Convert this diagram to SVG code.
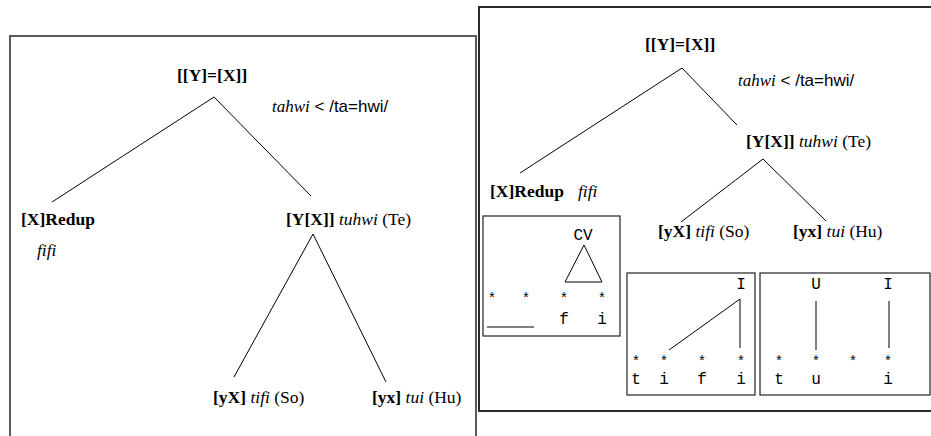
<svg xmlns="http://www.w3.org/2000/svg" width="931" height="436" viewBox="0 0 931 436">
<style>
.lbl{font-family:"Liberation Serif","Times New Roman",serif;font-size:17.5px;fill:#000}
.b{font-weight:bold}
.i{font-style:italic}
.sans{font-family:"Liberation Sans",Arial,sans-serif;font-style:normal}
.note{font-family:"Liberation Serif","Times New Roman",serif;font-size:17px;fill:#000}
.seg{font-family:"Liberation Mono","Courier New",monospace;font-size:16px;text-anchor:middle;fill:#000}
.star{font-family:"Liberation Mono","Courier New",monospace;font-size:14px;text-anchor:middle;fill:#000}
.edge{stroke:#000;stroke-width:1;fill:none}
.panelL{fill:none;stroke:#5a5a5a;stroke-width:2}
.panelR{fill:none;stroke:#2a2a2a;stroke-width:2}
.box{fill:none;stroke:#333;stroke-width:1.3}
</style>
<rect fill="#fff" x="0" y="0" width="931" height="436"/>

<g id="panel-left">
  <rect class="panelL" x="10" y="36" width="466" height="430"/>
</g>
<g id="panel-right">
  <rect class="panelR" x="479" y="7" width="470" height="404"/>
</g>

<g id="connectors">
  <line class="edge" x1="214" y1="97" x2="52" y2="202"/>
  <line class="edge" x1="214" y1="97" x2="311" y2="196"/>
  <line class="edge" x1="313" y1="234" x2="234" y2="377"/>
  <line class="edge" x1="313" y1="234" x2="386" y2="382"/>
  <line class="edge" x1="682" y1="68" x2="520" y2="173"/>
  <line class="edge" x1="682" y1="68" x2="737" y2="125"/>
  <line class="edge" x1="763" y1="159" x2="681" y2="222"/>
  <line class="edge" x1="763" y1="159" x2="826" y2="221"/>
</g>

<g id="L-root"><text class="lbl b" x="177" y="81">[[Y]=[X]]</text></g>
<g id="L-note"><text class="note" x="272" y="112"><tspan class="i">tahwi</tspan><tspan class="sans"> &lt; /ta=hwi/</tspan></text></g>
<g id="L-redup"><text class="lbl b" x="21" y="225">[X]Redup</text><text class="lbl i" x="37" y="256">fifi</text></g>
<g id="L-YX"><text class="lbl" x="286" y="225"><tspan class="b">[Y[X]]</tspan> <tspan class="i">tuhwi</tspan> (Te)</text></g>
<g id="L-yX"><text class="lbl" x="213" y="403"><tspan class="b">[yX]</tspan> <tspan class="i">tifi</tspan> (So)</text></g>
<g id="L-yx"><text class="lbl" x="372" y="403"><tspan class="b">[yx]</tspan> <tspan class="i">tui</tspan> (Hu)</text></g>

<g id="R-root"><text class="lbl b" x="645" y="50">[[Y]=[X]]</text></g>
<g id="R-note"><text class="note" x="738" y="86"><tspan class="i">tahwi</tspan><tspan class="sans"> &lt; /ta=hwi/</tspan></text></g>
<g id="R-YX"><text class="lbl" x="746" y="147"><tspan class="b">[Y[X]]</tspan> <tspan class="i">tuhwi</tspan> (Te)</text></g>
<g id="R-redup"><text class="lbl b" x="490" y="197">[X]Redup</text><text class="lbl i" x="578" y="197">fifi</text></g>
<g id="R-yX"><text class="lbl" x="658" y="237"><tspan class="b">[yX]</tspan> <tspan class="i">tifi</tspan> (So)</text></g>
<g id="R-yx"><text class="lbl" x="793" y="237"><tspan class="b">[yx]</tspan> <tspan class="i">tui</tspan> (Hu)</text></g>

<g id="box-redup">
  <rect class="box" x="483" y="216" width="137" height="120"/>
  <text class="seg" x="583" y="240">CV</text>
  <polygon class="edge" points="584,245 565,282 602,282"/>
  <text class="star" x="492" y="303">*</text>
  <text class="star" x="526" y="303">*</text>
  <text class="star" x="564" y="303">*</text>
  <text class="star" x="602" y="303">*</text>
  <line class="edge" x1="487" y1="327" x2="534" y2="327"/>
  <text class="seg" x="564" y="324">f</text>
  <text class="seg" x="602" y="324">i</text>
</g>

<g id="box-tifi">
  <rect class="box" x="627" y="273" width="128" height="122"/>
  <text class="seg" x="741" y="289">I</text>
  <line class="edge" x1="669" y1="350" x2="740" y2="299"/>
  <line class="edge" x1="740" y1="299" x2="740" y2="348"/>
  <text class="star" x="636" y="366">*</text>
  <text class="star" x="664" y="366">*</text>
  <text class="star" x="702" y="366">*</text>
  <text class="star" x="741" y="366">*</text>
  <text class="seg" x="636" y="384">t</text>
  <text class="seg" x="664" y="384">i</text>
  <text class="seg" x="702" y="384">f</text>
  <text class="seg" x="741" y="384">i</text>
</g>

<g id="box-tui">
  <rect class="box" x="760" y="273" width="170" height="122"/>
  <text class="seg" x="816" y="289">U</text>
  <text class="seg" x="888" y="289">I</text>
  <line class="edge" x1="816" y1="301" x2="816" y2="350"/>
  <line class="edge" x1="889" y1="301" x2="889" y2="348"/>
  <text class="star" x="779" y="366">*</text>
  <text class="star" x="816" y="366">*</text>
  <text class="star" x="853" y="366">*</text>
  <text class="star" x="888" y="366">*</text>
  <text class="seg" x="779" y="384">t</text>
  <text class="seg" x="816" y="384">u</text>
  <text class="seg" x="888" y="384">i</text>
</g>
</svg>
